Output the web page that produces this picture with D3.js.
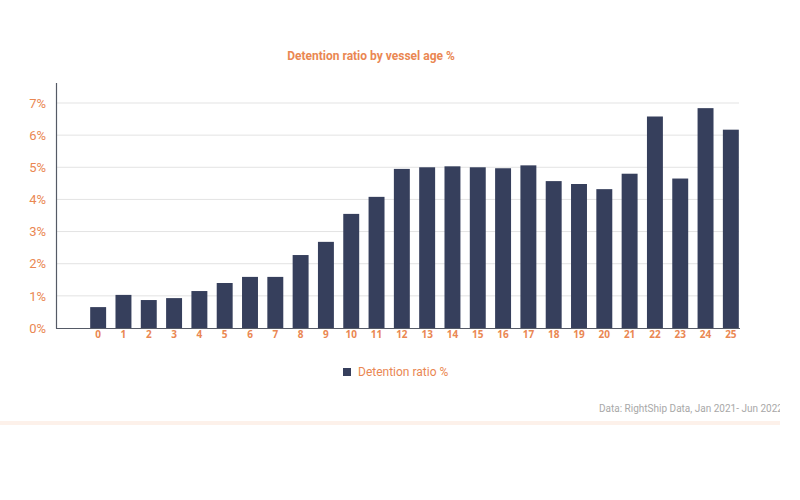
<!DOCTYPE html>
<html><head><meta charset="utf-8">
<script src="https://cdn.jsdelivr.net/npm/d3@7/dist/d3.min.js"></script>
<style>body{margin:0;background:#fff;}svg{display:block;font-family:Roboto,"Noto Sans",sans-serif;}</style>
</head><body><svg id="c" width="800" height="500"></svg>
<script>
const ages = ["0","1","2","3","4","5","6","7","8","9","10","11","12","13","14","15","16","17","18","19","20","21","22","23","24","25"];
const ratios = [0.65,1.03,0.87,0.93,1.15,1.40,1.59,1.59,2.27,2.68,3.55,4.08,4.95,5.0,5.03,5.0,4.97,5.06,4.57,4.48,4.32,4.80,6.58,4.65,6.84,6.17];
const yTicks = [0,1,2,3,4,5,6,7];
const title = "Detention ratio by vessel age %";
const legendLabel = "Detention ratio %";
const source = "Data: RightShip Data, Jan 2021- Jun 2022";

const orange = "#ea8752", bar = "#363f5c";
const svg = d3.select("#c");
const defs = svg.append("defs");
defs.append("clipPath").attr("id","clip").append("rect").attr("x",0).attr("y",0).attr("width",780).attr("height",500);
const g = svg.append("g").attr("clip-path","url(#clip)");

const x = d3.scaleBand().domain(ages).range([85.5, 743.5]).paddingInner(0.37).paddingOuter(0.185);
const y = d3.scaleLinear().domain([0,7]).range([328,103]);

// gridlines
g.append("g").selectAll("line").data(yTicks.filter(d=>d>0)).join("line")
  .attr("x1",57).attr("x2",739).attr("y1",d=>y(d)).attr("y2",d=>y(d))
  .attr("stroke","#e3e3e3").attr("stroke-width",1);

// bars
g.append("g").selectAll("rect").data(ratios).join("rect")
  .attr("x",(d,i)=>x(ages[i])).attr("width",x.bandwidth())
  .attr("y",d=>y(d)).attr("height",d=>y(0)-y(d)).attr("fill",bar);

// axes lines
g.append("line").attr("x1",56.5).attr("x2",56.5).attr("y1",83).attr("y2",328.5).attr("stroke","#555a66").attr("stroke-width",1.2);
g.append("line").attr("x1",56).attr("x2",740).attr("y1",328.5).attr("y2",328.5).attr("stroke","#555a66").attr("stroke-width",1.2);

// y labels
const ya = d3.axisLeft(y).tickValues(yTicks).tickFormat(d=>d+"%").tickSize(0).tickPadding(0);
const yg = g.append("g").attr("transform","translate(46,0)").call(ya);
yg.select(".domain").remove();
yg.selectAll("text").attr("fill",orange).style("font-size","13px").style("font-family","Roboto,sans-serif");

// x labels
const xa = d3.axisBottom(x).tickSize(0).tickPadding(0);
const xg = g.append("g").attr("transform","translate(0,331)").call(xa);
xg.select(".domain").remove();
xg.selectAll("text").attr("fill",orange).style("font-size","10px").style("font-weight","bold").style("font-family","'Open Sans',sans-serif");

// title
g.append("text").attr("x",371).attr("y",60).attr("text-anchor","middle")
  .attr("fill",orange).style("font-size","12px").style("font-weight","bold").text(title);

// legend
g.append("rect").attr("x",343).attr("y",368).attr("width",8).attr("height",8).attr("fill",bar);
g.append("text").attr("x",358).attr("y",376).attr("fill",orange).style("font-size","12px").text(legendLabel);

// source
g.append("text").attr("x",599).attr("y",412).attr("fill","#a8a8a8").style("font-size","10px").text(source);

// faint bottom band
g.append("rect").attr("x",0).attr("y",421).attr("width",780).attr("height",4).attr("fill","#fdf1ea");
</script></body></html>
